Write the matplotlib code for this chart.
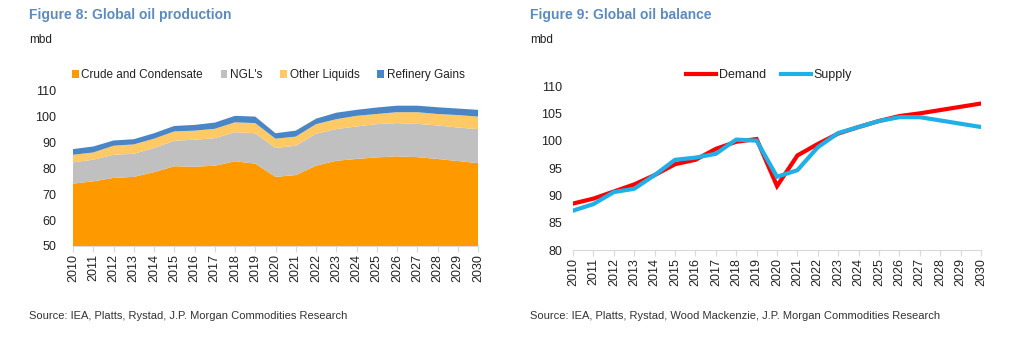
import matplotlib.pyplot as plt
from matplotlib.patches import Patch
from matplotlib.lines import Line2D

plt.rcParams['font.family'] = ['Liberation Sans', 'DejaVu Sans']

years = list(range(2010, 2031))

# Global oil production components, mbd
crude = [74.0, 74.9, 76.2, 76.6, 78.4, 80.7, 80.5, 80.9, 82.6, 81.7, 76.6,
         77.3, 80.9, 82.8, 83.5, 84.1, 84.5, 84.2, 83.5, 82.7, 81.9]
ngl = [8.2, 8.3, 8.9, 8.9, 9.3, 9.8, 10.4, 10.6, 11.2, 11.7, 11.1,
       11.3, 12.3, 12.2, 12.5, 12.8, 12.8, 12.8, 12.9, 12.9, 13.1]
other_liquids = [2.9, 2.8, 3.5, 3.6, 3.6, 3.6, 3.5, 3.6, 3.8, 3.9, 3.6,
                 3.5, 3.7, 3.8, 4.1, 3.9, 4.2, 4.5, 4.4, 4.8, 4.8]
refinery_gains = [2.2, 2.3, 2.0, 2.0, 2.1, 2.1, 2.2, 2.4, 2.5, 2.5, 2.1,
                  2.3, 2.1, 2.5, 2.3, 2.5, 2.5, 2.5, 2.6, 2.5, 2.6]

# Global oil balance, mbd
demand = [88.5, 89.4, 90.7, 92.0, 93.7, 95.7, 96.5, 98.5, 99.8, 100.3, 91.7,
          97.3, 99.4, 101.3, 102.5, 103.6, 104.5, 105.0, 105.6, 106.2, 106.8]
supply = [87.2, 88.4, 90.6, 91.2, 93.7, 96.5, 96.9, 97.6, 100.2, 100.0, 93.4,
          94.6, 98.8, 101.4, 102.5, 103.6, 104.3, 104.3, 103.7, 103.1, 102.5]

prod_labels = ['Crude and Condensate', "NGL's", 'Other Liquids', 'Refinery Gains']
prod_colors = ['#ff9900', '#c0c0c0', '#ffc966', '#4a86c5']

title_color = '#5b8bbf'
text_color = '#222222'
axis_grey = '#d9d9d9'

fig = plt.figure(figsize=(10.24, 3.4), dpi=100)

# --- Figure 8: stacked area ---
ax1 = fig.add_axes([0.0713, 0.2765, 0.3955, 0.4585])
ax1.stackplot(years, crude, ngl, other_liquids, refinery_gains,
              colors=prod_colors, baseline='zero', linewidth=0)
ax1.set_xlim(2010, 2030)
ax1.set_ylim(50, 110)
ax1.set_yticks(range(50, 111, 10))
ax1.set_xticks(years)
ax1.set_xticklabels([str(y) for y in years], rotation=90)
for k in ('top', 'right', 'left'):
    ax1.spines[k].set_visible(False)
ax1.spines['bottom'].set_color(axis_grey)
ax1.tick_params(axis='y', length=0, labelsize=9, colors=text_color, pad=12)
ax1.tick_params(axis='x', length=4, color=axis_grey, labelsize=9,
                labelcolor=text_color, pad=2)

handles = [Patch(facecolor=c, edgecolor='none') for c in prod_colors]
fig.legend(handles, prod_labels, loc='center', bbox_to_anchor=(0.262, 0.779),
           ncol=4, frameon=False, fontsize=8.5, handlelength=0.55, handleheight=0.55,
           handletextpad=0.25, columnspacing=1.5, labelcolor=text_color)

fig.text(0.028, 0.955, 'Figure 8: Global oil production', fontsize=10,
         fontweight='bold', color=title_color, va='center')
fig.text(0.028, 0.882, 'mbd', fontsize=8.5, color=text_color, va='center')
fig.text(0.028, 0.07, 'Source: IEA, Platts, Rystad, J.P. Morgan Commodities Research',
         fontsize=8, color='#333333', va='center')

# --- Figure 9: demand vs supply ---
ax2 = fig.add_axes([0.5596, 0.2647, 0.3984, 0.4823])
ax2.plot(years, demand, color='#ff0000', lw=3, solid_joinstyle='miter')
ax2.plot(years, supply, color='#1fb0e8', lw=3, solid_joinstyle='miter')
ax2.set_xlim(2010, 2030)
ax2.set_ylim(80, 110)
ax2.set_yticks(range(80, 111, 5))
ax2.set_xticks(years)
ax2.set_xticklabels([str(y) for y in years], rotation=90)
for k in ('top', 'right', 'left'):
    ax2.spines[k].set_visible(False)
ax2.spines['bottom'].set_color(axis_grey)
ax2.tick_params(axis='y', length=0, labelsize=9, colors=text_color, pad=8)
ax2.tick_params(axis='x', length=4, color=axis_grey, labelsize=9,
                labelcolor=text_color, pad=2)

line_handles = [Line2D([], [], color='#ff0000', lw=3),
                Line2D([], [], color='#1fb0e8', lw=3)]
fig.legend(line_handles, ['Demand', 'Supply'], loc='center',
           bbox_to_anchor=(0.751, 0.779), ncol=2, frameon=False, fontsize=9,
           handlelength=2.4, handletextpad=0.2, columnspacing=1.2,
           labelcolor=text_color)

fig.text(0.5176, 0.955, 'Figure 9: Global oil balance', fontsize=10,
         fontweight='bold', color=title_color, va='center')
fig.text(0.5176, 0.882, 'mbd', fontsize=8.5, color=text_color, va='center')
fig.text(0.5176, 0.07,
         'Source: IEA, Platts, Rystad, Wood Mackenzie, J.P. Morgan Commodities Research',
         fontsize=8, color='#333333', va='center')

fig.savefig('out.png', dpi=100)
